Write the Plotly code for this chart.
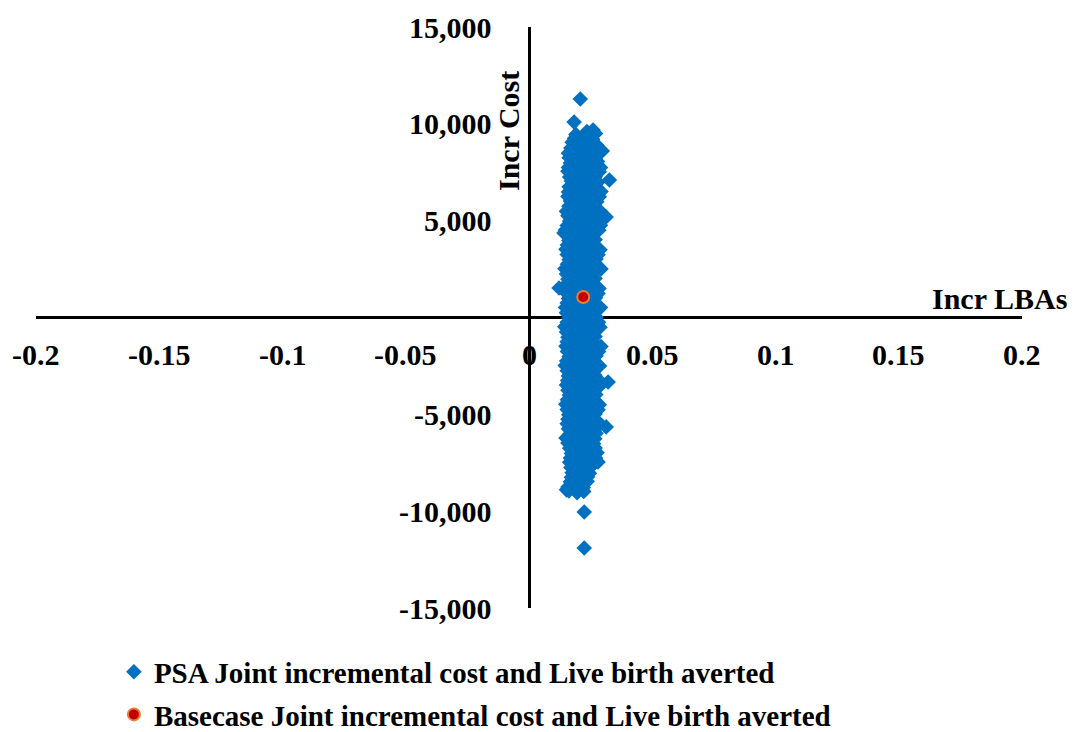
import plotly.graph_objects as go

# ---------------- data ----------------
psa_lba = [
    0.0208, 0.0183, 0.0260, 0.0297, 0.0326, 0.0313, 0.0122, 0.0142, 0.0224, 0.0224,
    0.0321, 0.0313, 0.0280, 0.0150, 0.0152,
    0.0190, 0.0235, 0.0270,
    0.0175, 0.0210, 0.0245, 0.0275,
    0.0160, 0.0195, 0.0230, 0.0265, 0.0295,
    0.0168, 0.0205, 0.0240, 0.0278,
    0.0158, 0.0188, 0.0222, 0.0255, 0.0285,
    0.0172, 0.0208, 0.0243, 0.0279,
    0.0160, 0.0193, 0.0228, 0.0262, 0.0292,
    0.0168, 0.0203, 0.0238, 0.0275,
    0.0152, 0.0186, 0.0220, 0.0255, 0.0288,
    0.0165, 0.0198, 0.0234, 0.0270,
    0.0148, 0.0182, 0.0216, 0.0250, 0.0283,
    0.0162, 0.0197, 0.0232, 0.0268,
    0.0150, 0.0185, 0.0220, 0.0254, 0.0288,
    0.0163, 0.0199, 0.0235, 0.0272,
    0.0146, 0.0181, 0.0217, 0.0251, 0.0292,
    0.0158, 0.0195, 0.0230, 0.0268,
    0.0145, 0.0178, 0.0213, 0.0248, 0.0284,
    0.0160, 0.0196, 0.0232, 0.0270,
    0.0148, 0.0183, 0.0218, 0.0253, 0.0290,
    0.0162, 0.0198, 0.0234, 0.0272,
    0.0145, 0.0180, 0.0215, 0.0250, 0.0288,
    0.0158, 0.0194, 0.0230, 0.0268,
    0.0150, 0.0184, 0.0219, 0.0254, 0.0292,
    0.0163, 0.0198, 0.0234, 0.0272,
    0.0147, 0.0181, 0.0216, 0.0251, 0.0286,
    0.0160, 0.0196, 0.0231, 0.0267,
    0.0152, 0.0186, 0.0220, 0.0255, 0.0290,
    0.0164, 0.0199, 0.0235, 0.0271,
    0.0149, 0.0183, 0.0218, 0.0252, 0.0285,
    0.0161, 0.0197, 0.0232, 0.0268,
    0.0155, 0.0189, 0.0223, 0.0258, 0.0289,
    0.0166, 0.0201, 0.0236, 0.0272,
    0.0158, 0.0192, 0.0227, 0.0262,
    0.0172, 0.0208, 0.0243, 0.0276,
    0.0165, 0.0198, 0.0232, 0.0266,
    0.0175, 0.0210, 0.0245,
    0.0168, 0.0202, 0.0236,
    0.0162, 0.0195, 0.0222,
    # in-between rows
    0.0185, 0.0220, 0.0258,
    0.0170, 0.0205, 0.0240, 0.0272,
    0.0163, 0.0198, 0.0233, 0.0268,
    0.0160, 0.0195, 0.0230, 0.0265, 0.0290,
    0.0165, 0.0200, 0.0235, 0.0268,
    0.0163, 0.0198, 0.0233, 0.0270,
    0.0158, 0.0193, 0.0228, 0.0263, 0.0285,
    0.0162, 0.0196, 0.0230, 0.0266,
    0.0158, 0.0192, 0.0227, 0.0262,
    0.0155, 0.0190, 0.0225, 0.0260, 0.0290,
    0.0157, 0.0190, 0.0224, 0.0259,
    0.0156, 0.0192, 0.0226, 0.0262,
    0.0155, 0.0190, 0.0226, 0.0260, 0.0280,
    0.0156, 0.0190, 0.0224, 0.0260,
    0.0152, 0.0187, 0.0222, 0.0258,
    0.0155, 0.0190, 0.0225, 0.0262,
    0.0153, 0.0188, 0.0224, 0.0258, 0.0280,
    0.0155, 0.0190, 0.0226, 0.0262,
    0.0152, 0.0188, 0.0225, 0.0262,
    0.0155, 0.0190, 0.0225, 0.0260, 0.0282,
    0.0152, 0.0187, 0.0222, 0.0258,
    0.0155, 0.0190, 0.0226, 0.0262,
    0.0156, 0.0191, 0.0226, 0.0262, 0.0282,
    0.0153, 0.0189, 0.0224, 0.0260,
    0.0155, 0.0190, 0.0226, 0.0262,
    0.0157, 0.0192, 0.0227, 0.0262, 0.0284,
    0.0158, 0.0193, 0.0228, 0.0263,
    0.0156, 0.0191, 0.0226, 0.0262,
    0.0155, 0.0190, 0.0225, 0.0260, 0.0280,
    0.0158, 0.0193, 0.0228, 0.0263,
    0.0160, 0.0195, 0.0230, 0.0265,
    0.0162, 0.0197, 0.0232, 0.0267,
    0.0165, 0.0200, 0.0235, 0.0268,
    0.0168, 0.0203, 0.0238, 0.0270,
    0.0170, 0.0205, 0.0240,
    0.0172, 0.0207, 0.0238,
    0.0158, 0.0190, 0.0220,
]
psa_cost = [
    11280, 10090, 9680, 8600, 7100, 5190, 1520, 4360, -10040, -11900,
    -3330, -5650, -7460, -6220, -8900,
    9450, 9600, 9500,
    9050, 8950, 9100, 8900,
    8480, 8600, 8420, 8550, 8600,
    7980, 8100, 7950, 8050,
    7550, 7450, 7600, 7480, 7520,
    7050, 6950, 7020, 6980,
    6480, 6560, 6450, 6520, 6500,
    6020, 5950, 6060, 5980,
    5480, 5540, 5460, 5520, 5500,
    4980, 5050, 4950, 5020,
    4520, 4460, 4550, 4480, 4510,
    3980, 4050, 3960, 4020,
    3520, 3460, 3540, 3480, 3500,
    2980, 3040, 2960, 3020,
    2520, 2470, 2540, 2490, 2510,
    1980, 2040, 1960, 2020,
    1520, 1460, 1540, 1480, 1500,
    980, 1040, 960, 1020,
    520, 470, 540, 490, 510,
    -20, 40, -40, 20,
    -480, -530, -460, -510, -500,
    -1020, -960, -1040, -980,
    -1480, -1540, -1460, -1520, -1500,
    -2020, -1960, -2040, -1980,
    -2480, -2530, -2460, -2510, -2500,
    -3020, -2960, -3040, -2980,
    -3480, -3540, -3460, -3520, -3500,
    -4020, -3960, -4040, -3980,
    -4480, -4530, -4460, -4510, -4500,
    -5020, -4960, -5040, -4980,
    -5480, -5540, -5460, -5520, -5500,
    -6020, -5960, -6040, -5980,
    -6480, -6540, -6460, -6520,
    -7020, -6960, -7040, -6980,
    -7480, -7540, -7460, -7520,
    -8020, -7960, -8040,
    -8480, -8540, -8460,
    -8950, -9050, -8980,
    # in-between rows
    9250, 9300, 9200,
    8750, 8700, 8780, 8720,
    8250, 8200, 8280, 8230,
    7750, 7780, 7720, 7760, 7740,
    7250, 7280, 7220, 7260,
    6750, 6720, 6780, 6740,
    6250, 6280, 6220, 6260, 6240,
    5750, 5720, 5780, 5740,
    5250, 5280, 5220, 5260,
    4750, 4720, 4780, 4740, 4760,
    4250, 4280, 4220, 4260,
    3750, 3720, 3780, 3740,
    3250, 3280, 3220, 3260, 3240,
    2750, 2720, 2780, 2740,
    2250, 2280, 2220, 2260,
    1750, 1720, 1780, 1740,
    1250, 1280, 1220, 1260, 1240,
    750, 720, 780, 740,
    250, 280, 220, 260,
    -250, -280, -220, -260, -240,
    -750, -720, -780, -740,
    -1250, -1280, -1220, -1260,
    -1750, -1720, -1780, -1740, -1760,
    -2250, -2280, -2220, -2260,
    -2750, -2720, -2780, -2740,
    -3250, -3280, -3220, -3260, -3240,
    -3750, -3720, -3780, -3740,
    -4250, -4280, -4220, -4260,
    -4750, -4720, -4780, -4740, -4760,
    -5250, -5280, -5220, -5260,
    -5750, -5720, -5780, -5740,
    -6250, -6280, -6220, -6260,
    -6750, -6720, -6780, -6740,
    -7250, -7280, -7220, -7260,
    -7750, -7720, -7780,
    -8250, -8280, -8220,
    -8750, -8720, -8780,
]
base_lba = [0.0220]
base_cost = [1060]

x_ticks = [-0.2, -0.15, -0.1, -0.05, 0, 0.05, 0.1, 0.15, 0.2]
x_tick_labels = ["-0.2", "-0.15", "-0.1", "-0.05", "0", "0.05", "0.1", "0.15", "0.2"]
y_ticks = [15000, 10000, 5000, -5000, -10000, -15000]
y_tick_labels = ["15,000", "10,000", "5,000", "-5,000", "-10,000", "-15,000"]

psa_name = "PSA Joint incremental cost and Live birth averted"
base_name = "Basecase Joint incremental cost and Live birth averted"
x_title = "Incr LBAs"
y_title = "Incr Cost"

FONT = "Liberation Serif, Times New Roman, serif"

# ---------------- figure ----------------
fig = go.Figure()
fig.add_trace(go.Scatter(
    x=psa_lba, y=psa_cost, mode="markers", name=f"<b>{psa_name}</b>", legendgroup="a",
    marker=dict(symbol="diamond", size=12, color="#0070C0", line=dict(width=0)),
))
fig.add_trace(go.Scatter(
    x=base_lba, y=base_cost, mode="markers", name=f"<b>{base_name}</b>", legendgroup="b",
    marker=dict(symbol="circle", size=12, color="#C00000",
                line=dict(width=2, color="#ED7D31")),
))

annotations = []
for v, t in zip(x_ticks, x_tick_labels):
    annotations.append(dict(x=v, y=0, xref="x", yref="y", text=f"<b>{t}</b>",
                            showarrow=False, yanchor="middle", yshift=-37,
                            font=dict(family=FONT, size=30, color="black")))
for v, t in zip(y_ticks, y_tick_labels):
    annotations.append(dict(x=0, y=v, xref="x", yref="y", text=f"<b>{t}</b>",
                            showarrow=False, xanchor="right", yanchor="middle", xshift=-35,
                            font=dict(family=FONT, size=30, color="black")))
annotations.append(dict(x=0, y=0.821, xref="x", yref="paper", text=f"<b>{y_title}</b>",
                        showarrow=False, textangle=-90, xshift=-20,
                        xanchor="center", yanchor="middle",
                        font=dict(family=FONT, size=30, color="black")))
annotations.append(dict(x=0.191, y=0, xref="x", yref="y", text=f"<b>{x_title}</b>",
                        showarrow=False, yshift=19,
                        font=dict(family=FONT, size=30, color="black")))

fig.update_layout(
    width=1079, height=732,
    margin=dict(l=28, r=65, t=19, b=132, autoexpand=False),
    paper_bgcolor="white", plot_bgcolor="white",
    xaxis=dict(range=[-0.2, 0.2], showgrid=False, showticklabels=False, ticks="",
               zeroline=True, zerolinecolor="black", zerolinewidth=3, showline=False),
    yaxis=dict(range=[-15000, 15000], showgrid=False, showticklabels=False, ticks="",
               zeroline=True, zerolinecolor="black", zerolinewidth=3, showline=False),
    annotations=annotations,
    showlegend=True,
    legend=dict(x=0.079, y=-0.066, xanchor="left", yanchor="top", orientation="v",
                tracegroupgap=2, bgcolor="rgba(0,0,0,0)",
                font=dict(family=FONT, size=29, color="black")),
)

fig.write_html("out.html")
